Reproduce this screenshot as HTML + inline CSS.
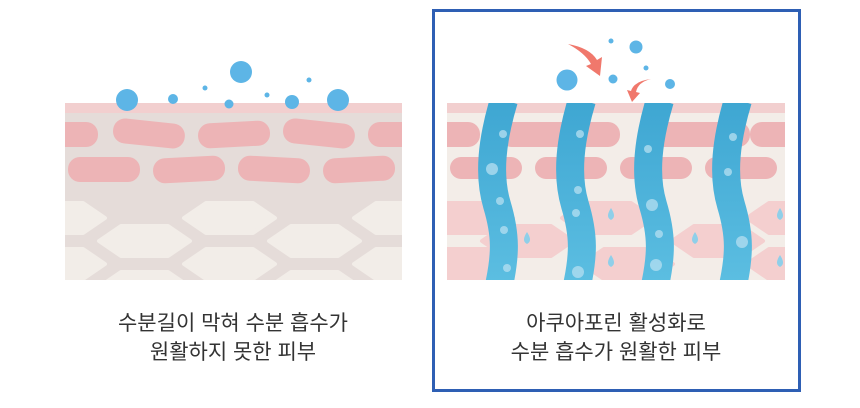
<!DOCTYPE html>
<html><head><meta charset="utf-8"><style>
html,body{margin:0;padding:0;background:#fff;}
svg{display:block}
text{font-family:"Liberation Sans","Noto Sans CJK KR",sans-serif;fill:#333;font-size:21px;text-anchor:middle}
</style></head><body>
<svg width="860" height="408" viewBox="0 0 860 408" xmlns="http://www.w3.org/2000/svg">
<defs>
<clipPath id="cl"><rect x="65" y="103" width="337" height="177"/></clipPath>
<clipPath id="cr"><rect x="447" y="103" width="338" height="177"/></clipPath>
<linearGradient id="ch" x1="0" y1="0" x2="0" y2="1"><stop offset="0" stop-color="#3ea6d2"/><stop offset="1" stop-color="#5dbfe2"/></linearGradient>
<g id="hex"><path d="M2 0 Q2 0 24 -15 h47 l22 15 l-22 15 h-47z" stroke-linejoin="round" stroke-width="4"/></g>
</defs>
<rect width="860" height="408" fill="#fff"/>
<!-- left panel -->
<g clip-path="url(#cl)">
<rect x="65" y="103" width="337" height="177" fill="#e5dcd9"/>
<rect x="65" y="103" width="337" height="10" fill="#f2cfcf"/>
<g fill="#edb4b6">
<rect x="40" y="122" width="58" height="25" rx="12"/>
<rect x="113" y="121" width="72" height="25" rx="12" transform="rotate(6 149 133)"/>
<rect x="198" y="122" width="72" height="25" rx="12" transform="rotate(-3 234 134)"/>
<rect x="283" y="121" width="72" height="25" rx="12" transform="rotate(6 319 133)"/>
<rect x="368" y="122" width="60" height="25" rx="12"/>
<rect x="68" y="157" width="72" height="25" rx="12"/>
<rect x="153" y="157" width="72" height="25" rx="12" transform="rotate(-3 189 169)"/>
<rect x="238" y="157" width="72" height="25" rx="12" transform="rotate(3 274 169)"/>
<rect x="323" y="157" width="72" height="25" rx="12" transform="rotate(-3 359 169)"/>
</g>
<g fill="#f2ede8" stroke="#f2ede8">
<use href="#hex" x="12" y="218"/><use href="#hex" x="182" y="218"/><use href="#hex" x="352" y="218"/>
<use href="#hex" x="97" y="241"/><use href="#hex" x="267" y="241"/>
<use href="#hex" x="12" y="264"/><use href="#hex" x="182" y="264"/><use href="#hex" x="352" y="264"/>
<use href="#hex" x="97" y="287"/><use href="#hex" x="267" y="287"/>
</g>
</g>
<g fill="#5db5e6">
<circle cx="127" cy="100" r="11"/><circle cx="173" cy="99" r="5"/><circle cx="205" cy="88" r="2.5"/>
<circle cx="241" cy="72" r="11"/><circle cx="229" cy="104" r="4.5"/><circle cx="267" cy="95" r="2.5"/>
<circle cx="292" cy="102" r="7"/><circle cx="309" cy="80" r="2.5"/><circle cx="338" cy="100" r="11"/>
</g>
<text x="233" y="330">수분길이 막혀 수분 흡수가</text>
<text x="233" y="359">원활하지 못한 피부</text>

<!-- right panel -->
<rect x="433.5" y="10.5" width="366" height="380" fill="none" stroke="#2e5fb4" stroke-width="3"/>
<g clip-path="url(#cr)">
<rect x="447" y="103" width="338" height="177" fill="#f3ede8"/>
<rect x="447" y="103" width="338" height="10" fill="#f2cfcf"/>
<g fill="#edb4b6">
<rect x="420" y="122" width="60" height="25" rx="12"/>
<rect x="500" y="122" width="120" height="25" rx="12"/>
<rect x="640" y="122" width="110" height="25" rx="12"/>
<rect x="750" y="122" width="60" height="25" rx="12"/>
<rect x="450" y="157" width="72" height="22" rx="11"/>
<rect x="535" y="157" width="72" height="22" rx="11"/>
<rect x="620" y="157" width="72" height="22" rx="11"/>
<rect x="705" y="157" width="72" height="22" rx="11"/>
</g>
<g fill="#f4cfcf" stroke="#f4cfcf">
<use href="#hex" x="420" y="218"/><use href="#hex" x="560" y="218"/><use href="#hex" x="745" y="218"/>
<use href="#hex" x="480" y="241"/><use href="#hex" x="670" y="241"/>
<use href="#hex" x="420" y="264"/><use href="#hex" x="580" y="264"/><use href="#hex" x="745" y="264"/>
</g>
<g fill="none" stroke="url(#ch)" stroke-width="28">
<path d="M504 100 C 492 140, 488 175, 497 205 S 506 255, 498 290"/>
<path d="M582 100 C 570 140, 566 175, 575 205 S 584 255, 576 290"/>
<path d="M660 100 C 648 140, 644 175, 653 205 S 662 255, 654 290"/>
<path d="M738 100 C 726 140, 722 175, 731 205 S 740 255, 732 290"/>
</g>
<g fill="#b0ddf0" opacity="0.8">
<circle cx="503" cy="134" r="4"/><circle cx="492" cy="169" r="6"/><circle cx="500" cy="201" r="4"/><circle cx="504" cy="230" r="4"/><circle cx="507" cy="268" r="4"/>
<circle cx="580" cy="134" r="4"/><circle cx="578" cy="190" r="4"/><circle cx="576" cy="213" r="4"/><circle cx="578" cy="272" r="6"/>
<circle cx="648" cy="149" r="4"/><circle cx="652" cy="205" r="6"/><circle cx="659" cy="234" r="4"/><circle cx="656" cy="265" r="6"/>
<circle cx="733" cy="137" r="4"/><circle cx="728" cy="172" r="4"/><circle cx="742" cy="242" r="6"/>
</g>
<g fill="#8fcfe9">
<path d="M527 232 q-6 9 0 12 q6 -3 0 -12z"/>
<path d="M611 208 q-6 9 0 12 q6 -3 0 -12z"/>
<path d="M611 255 q-6 9 0 12 q6 -3 0 -12z"/>
<path d="M695 232 q-6 9 0 12 q6 -3 0 -12z"/>
<path d="M780 208 q-6 9 0 12 q6 -3 0 -12z"/>
<path d="M780 255 q-6 9 0 12 q6 -3 0 -12z"/>
</g>
</g>
<g fill="#5db5e6">
<circle cx="567" cy="80" r="10.5"/><circle cx="636" cy="47" r="6.5"/><circle cx="611" cy="41" r="2.5"/>
<circle cx="613" cy="79" r="4.5"/><circle cx="646" cy="68" r="2.5"/><circle cx="670" cy="84" r="5"/>
</g>
<g fill="#f0786c">
<path d="M568 44 Q590 48 597 60 L602 57 L600 76 L586 66 L591 64 Q585 53 568 44z"/>
<path d="M651 79 Q638 82 636 92 L640 93 L632 102 L627 90 L631 91 Q634 81 651 79z"/>
</g>
<text x="616" y="330">아쿠아포린 활성화로</text>
<text x="616" y="359">수분 흡수가 원활한 피부</text>
</svg>
</body></html>
